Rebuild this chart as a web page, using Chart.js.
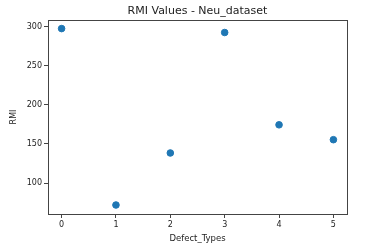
<!DOCTYPE html>
<html>
<head>
<meta charset="utf-8">
<script src="https://cdn.jsdelivr.net/npm/chart.js@4"></script>
<style>
  html, body { margin: 0; padding: 0; background: #fff; }
  #rmiChart { display: block; }
</style>
</head>
<body>
<canvas id="rmiChart" width="371" height="244"></canvas>
<script>
// Data
const chartTitle = 'RMI Values - Neu_dataset';
const defectTypes = [0, 1, 2, 3, 4, 5];
const rmiValues = [297.5, 72, 138.5, 292.5, 174.5, 155.5];
const xTicks = [0, 1, 2, 3, 4, 5];
const yTicks = [100, 150, 200, 250, 300];

const fontFamily = '"DejaVu Sans", sans-serif';

// Box around the plot area and a title centred over it, like matplotlib
const frame = {
    id: 'frame',
    afterDatasetsDraw(chart) {
        const { ctx, chartArea } = chart;
        ctx.save();
        ctx.strokeStyle = '#444';
        ctx.lineWidth = 1;
        ctx.strokeRect(Math.round(chartArea.left) + 0.5, Math.round(chartArea.top) + 0.5,
            Math.round(chartArea.right - chartArea.left), Math.round(chartArea.bottom - chartArea.top));

        ctx.fillStyle = '#222';
        ctx.font = '11px ' + fontFamily;
        ctx.textAlign = 'center';
        ctx.textBaseline = 'middle';
        ctx.fillText(chartTitle, (chartArea.left + chartArea.right) / 2, 11.5);
        ctx.restore();
    }
};

new Chart(document.getElementById('rmiChart'), {
    type: 'scatter',
    data: {
        datasets: [{
            label: 'RMI',
            data: defectTypes.map((d, i) => ({ x: d, y: rmiValues[i] })),
            backgroundColor: '#1f77b4',
            borderColor: '#1f77b4',
            pointRadius: 3.3,
            pointHoverRadius: 3.3,
        }],
    },
    options: {
        responsive: false,
        animation: false,
        layout: { padding: { left: 0, right: 24, top: 20, bottom: 0 } },
        plugins: {
            legend: { display: false },
            tooltip: { enabled: false },
            title: { display: false },
        },
        scales: {
            x: {
                type: 'linear',
                min: -0.25,
                max: 5.25,
                afterBuildTicks: axis => { axis.ticks = xTicks.map(v => ({ value: v })); },
                afterFit: axis => { axis.height = 30; },
                grid: { drawOnChartArea: false, tickLength: 4, color: '#444' },
                border: { display: false },
                ticks: { color: '#222', font: { family: fontFamily, size: 8 }, padding: 2 },
                title: {
                    display: true,
                    text: 'Defect_Types',
                    color: '#222',
                    font: { family: fontFamily, size: 8.5 },
                    padding: { top: 0, bottom: 0 },
                },
            },
            y: {
                min: 60.5,
                max: 308.5,
                afterBuildTicks: axis => { axis.ticks = yTicks.map(v => ({ value: v })); },
                afterFit: axis => { axis.width = 48; },
                grid: { drawOnChartArea: false, tickLength: 4, color: '#444' },
                border: { display: false },
                ticks: { color: '#222', font: { family: fontFamily, size: 8 }, padding: 2 },
                title: {
                    display: true,
                    text: 'RMI',
                    color: '#222',
                    font: { family: fontFamily, size: 8 },
                    padding: { top: 9, bottom: 0 },
                },
            },
        },
    },
    plugins: [frame],
});
</script>
</body>
</html>
